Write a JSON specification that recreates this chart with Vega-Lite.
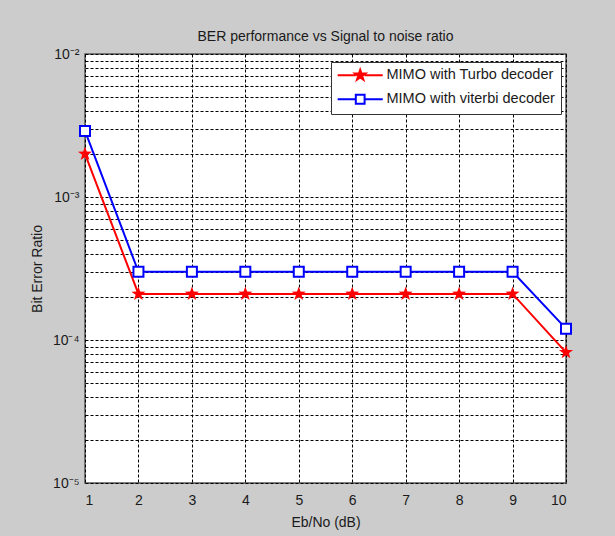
{
  "$schema": "https://vega.github.io/schema/vega-lite/v6.json",
  "width": 481,
  "height": 429,
  "autosize": {"type": "none"},
  "padding": {"left": 85, "top": 54, "right": 49, "bottom": 53},
  "background": "#cccccc",
  "title": {"text": "BER performance vs Signal to noise ratio", "font": "Liberation Sans", "fontSize": 14, "fontWeight": "normal", "color": "#1a1a1a", "offset": 3},
  "data": {"values": [
    {"snr": 1, "ber": 0.002, "series": "MIMO with Turbo decoder"},
    {"snr": 2, "ber": 0.00021, "series": "MIMO with Turbo decoder"},
    {"snr": 3, "ber": 0.00021, "series": "MIMO with Turbo decoder"},
    {"snr": 4, "ber": 0.00021, "series": "MIMO with Turbo decoder"},
    {"snr": 5, "ber": 0.00021, "series": "MIMO with Turbo decoder"},
    {"snr": 6, "ber": 0.00021, "series": "MIMO with Turbo decoder"},
    {"snr": 7, "ber": 0.00021, "series": "MIMO with Turbo decoder"},
    {"snr": 8, "ber": 0.00021, "series": "MIMO with Turbo decoder"},
    {"snr": 9, "ber": 0.00021, "series": "MIMO with Turbo decoder"},
    {"snr": 10, "ber": 0.000082, "series": "MIMO with Turbo decoder"},
    {"snr": 1, "ber": 0.0029, "series": "MIMO with viterbi decoder"},
    {"snr": 2, "ber": 0.0003, "series": "MIMO with viterbi decoder"},
    {"snr": 3, "ber": 0.0003, "series": "MIMO with viterbi decoder"},
    {"snr": 4, "ber": 0.0003, "series": "MIMO with viterbi decoder"},
    {"snr": 5, "ber": 0.0003, "series": "MIMO with viterbi decoder"},
    {"snr": 6, "ber": 0.0003, "series": "MIMO with viterbi decoder"},
    {"snr": 7, "ber": 0.0003, "series": "MIMO with viterbi decoder"},
    {"snr": 8, "ber": 0.0003, "series": "MIMO with viterbi decoder"},
    {"snr": 9, "ber": 0.0003, "series": "MIMO with viterbi decoder"},
    {"snr": 10, "ber": 0.00012, "series": "MIMO with viterbi decoder"}
  ]},
  "encoding": {
    "x": {"field": "snr", "type": "quantitative", "scale": {"domain": [1, 10], "nice": false, "zero": false},
      "axis": {"title": "Eb/No (dB)", "values": [1,2,3,4,5,6,7,8,9,10], "labelPadding": 10, "titlePadding": 8, "format": "d"}},
    "y": {"field": "ber", "type": "quantitative", "scale": {"type": "log", "domain": [0.00001, 0.01], "nice": false},
      "axis": {"title": "Bit Error Ratio", "titlePadding": 8, "labelPadding": 6,
        "values": [0.00001,0.00002,0.00003,0.00004,0.00005,0.00006,0.00007,0.00008,0.00009,0.0001,0.0002,0.0003,0.0004,0.0005,0.0006,0.0007,0.0008,0.0009,0.001,0.002,0.003,0.004,0.005,0.006,0.007,0.008,0.009,0.01],
        "labelExpr": "datum.value == 0.01 ? '10⁻²' : datum.value == 0.001 ? '10⁻³' : datum.value == 0.0001 ? '10⁻⁴' : datum.value == 0.00001 ? '10⁻⁵' : ''"}}
  },
  "layer": [
    {
      "transform": [{"filter": "datum.series == 'MIMO with Turbo decoder'"}],
      "mark": {"type": "line", "strokeWidth": 2, "color": "#ff0000"},
      "encoding": {}
    },
    {
      "transform": [{"filter": "datum.series == 'MIMO with viterbi decoder'"}],
      "mark": {"type": "line", "strokeWidth": 2, "color": "#0000ff"},
      "encoding": {}
    },
    {
      "transform": [{"filter": "datum.series == 'MIMO with Turbo decoder'"}],
      "mark": {"type": "point", "filled": true, "color": "#ff0000", "size": 220, "opacity": 1,
        "shape": "M0,-1L0.235,-0.324L0.951,-0.309L0.380,0.124L0.588,0.809L0,0.4L-0.588,0.809L-0.380,0.124L-0.951,-0.309L-0.235,-0.324Z"}
    },
    {
      "transform": [{"filter": "datum.series == 'MIMO with viterbi decoder'"}],
      "mark": {"type": "point", "shape": "square", "filled": false, "color": "#0000ff", "size": 100, "strokeWidth": 2, "opacity": 1, "fill": "white", "fillOpacity": 1}
    },
    {
      "mark": {"type": "point", "strokeWidth": 2, "filled": true, "opacity": 0},
      "encoding": {
        "fill": {"field": "series", "type": "nominal", "title": null, "scale": {"domain": ["MIMO with Turbo decoder", "MIMO with viterbi decoder"], "range": ["#ff0000", "#ffffff"]}},
        "stroke": {"field": "series", "type": "nominal", "title": null, "scale": {"domain": ["MIMO with Turbo decoder", "MIMO with viterbi decoder"], "range": ["#ff0000", "#0000ff"]}},
        "shape": {"field": "series", "type": "nominal", "title": null, "scale": {"domain": ["MIMO with Turbo decoder", "MIMO with viterbi decoder"], "range": [
          "M-1.2,0H2.1M3.7,0H7.0M2.9,-1L3.135,-0.324L3.851,-0.309L3.280,0.124L3.488,0.809L2.9,0.4L2.312,0.809L2.520,0.124L1.949,-0.309L2.665,-0.324Z",
          "M-1.2,0H2.1M3.7,0H7.0M2.1,-0.8H3.7V0.8H2.1Z"]},
          "legend": {"orient": "none", "legendX": 246, "legendY": 8, "labelOffset": 35}}
      }
    }
  ],
  "config": {
    "view": {"fill": "white", "stroke": "#555555", "strokeWidth": 1.5},
    "axis": {"labelFont": "Liberation Sans", "titleFont": "Liberation Sans", "labelFontSize": 14, "titleFontSize": 14, "titleFontWeight": "normal", "labelColor": "#1a1a1a", "titleColor": "#1a1a1a", "domain": false, "ticks": false, "gridColor": "#000000", "gridOpacity": 1, "gridDash": [3, 2], "gridWidth": 1},
    "legend": {"fillColor": "white", "strokeColor": "#333333", "padding": 6, "symbolSize": 121, "symbolStrokeWidth": 2, "symbolOpacity": 1, "labelFont": "Liberation Sans", "labelFontSize": 14.5, "labelColor": "#1a1a1a", "rowPadding": 6, "labelLimit": 300}
  }
}
